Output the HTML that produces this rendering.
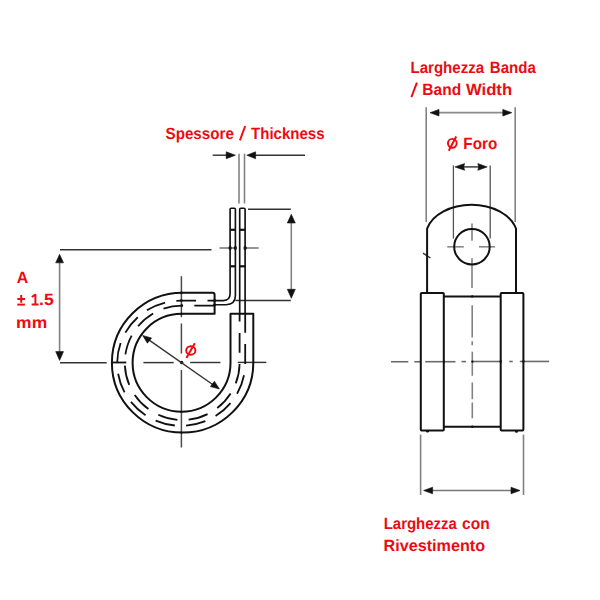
<!DOCTYPE html>
<html><head><meta charset="utf-8">
<style>
html,body{margin:0;padding:0;background:#fff;}
body{width:600px;height:600px;overflow:hidden;}
svg{display:block;}
text{font-family:"Liberation Sans",sans-serif;font-weight:bold;fill:#ee0a10;text-rendering:geometricPrecision;}
.h{fill:none;stroke:#333;stroke-width:1.45;}
.v{fill:none;stroke:#828282;stroke-width:1.6;}
.o{fill:none;stroke:#111;stroke-width:2;}
.b{fill:none;stroke:#111;stroke-width:1.8;}
.a{fill:#111;stroke:#111;stroke-width:0.6;stroke-linejoin:round;}
</style></head><body>
<svg width="600" height="600" viewBox="0 0 600 600">
<defs><filter id="sb" x="0" y="0" width="600" height="600" filterUnits="userSpaceOnUse" color-interpolation-filters="sRGB"><feGaussianBlur stdDeviation="0.35"/></filter></defs>
<rect width="600" height="600" fill="#fff"/>
<g filter="url(#sb)">

<!-- ================= LEFT DRAWING ================= -->
<!-- dimension A -->
<line class="h" x1="60" y1="249.7" x2="211.5" y2="249.7"/>
<line class="h" x1="60" y1="362.8" x2="106.7" y2="362.8"/>
<line class="v" x1="59.6" y1="258" x2="59.6" y2="356"/>
<path class="a" d="M59.6,254.3 L63.5,262.8 L55.7,262.8 Z"/>
<path class="a" d="M59.6,360.4 L63.5,351.6 L55.7,351.6 Z"/>
<!-- centre lines of ring -->
<line class="h" x1="143.4" y1="362.6" x2="173.7" y2="362.6"/>
<line class="h" x1="190.2" y1="362.5" x2="220.4" y2="362.5"/>
<line class="h" x1="237.8" y1="362.4" x2="266.3" y2="362.4"/>
<line class="v" style="stroke:#4a4a4a;stroke-width:1.5" x1="181.4" y1="276.2" x2="181.4" y2="317.2"/>
<line class="v" style="stroke:#4a4a4a;stroke-width:1.5" x1="181.4" y1="323.5" x2="181.4" y2="353.5"/>
<line class="v" style="stroke:#4a4a4a;stroke-width:1.5" x1="181.4" y1="370" x2="181.4" y2="447.5"/>
<circle cx="181.6" cy="362.5" r="1.8" fill="#111"/>
<!-- centre line through strips -->
<line class="h" style="stroke:#8a8a8a;stroke-width:1.8" x1="219.5" y1="248" x2="235.2" y2="248"/>
<line class="h" style="stroke:#8a8a8a;stroke-width:1.8" x1="245" y1="248" x2="258.7" y2="248"/>
<ellipse cx="230.1" cy="248" rx="1.6" ry="1.9" fill="#111"/>
<ellipse cx="235.3" cy="248" rx="1.6" ry="1.9" fill="#111"/>
<ellipse cx="245.1" cy="248" rx="1.6" ry="1.9" fill="#111"/>
<!-- strip length dimension -->
<line class="h" x1="248" y1="209.3" x2="290.8" y2="209.3"/>
<line class="h" x1="235.5" y1="300.5" x2="290.8" y2="300.5"/>
<line class="v" x1="291.3" y1="220" x2="291.3" y2="292"/>
<path class="a" d="M291.3,214.3 L295.3,223 L287.3,223 Z"/>
<path class="a" d="M291.3,298.2 L295.3,289.3 L287.3,289.3 Z"/>
<!-- thickness -->
<line class="v" x1="239" y1="153.7" x2="239" y2="203.4"/>
<line class="v" x1="244.5" y1="153.7" x2="244.5" y2="203.4"/>
<line class="h" x1="212.7" y1="155.2" x2="228" y2="155.2"/>
<path class="a" d="M235.4,155.2 L226.2,151.8 L226.2,158.7 Z"/>
<line class="h" x1="253" y1="155.2" x2="305" y2="155.2"/>
<path class="a" d="M246.8,155.2 L255.6,151.8 L255.6,158.7 Z"/>
<!-- diameter -->
<line class="h" x1="146" y1="337.8" x2="215.5" y2="386.5"/>
<path class="a" d="M142.6,335.4 L151.6,338 L147.4,343.2 Z"/>
<path class="a" d="M219.4,389 L214.4,381.2 L210.4,386.6 Z"/>

<!-- rubber outline -->
<path class="o" stroke-linejoin="round" d="M212.8,292.8 L182.6,292.8 A70.7,69.9 0 1 0 253.3,362.7 L253.3,313.8 L230.5,313.8 L230.5,362.8 A48.95,48.95 0 1 1 181.55,313.85 L214.6,313.8 L214.6,295 Q214.6,292.8 212.8,292.8 Z"/>
<!-- band hidden lines -->
<path class="b" d="M214.6,300.6 L180.8,300.6 A64,62.6 0 1 0 245.2,363.2 L245.2,313.8" stroke-dasharray="19.8 11.4" stroke-dashoffset="12.7"/>
<path class="b" d="M214.6,305.6 L181.7,305.6 A57.4,57.2 0 1 0 239.6,362.8 L239.6,313.8" stroke-dasharray="19.8 11.36" stroke-dashoffset="30.66"/>
<line class="b" x1="112" y1="362.5" x2="126.3" y2="362.5"/>
<!-- strips (solid band) -->
<path class="b" style="stroke-width:1.65" d="M239.7,313.8 L239.7,209.3 Q239.7,208.2 240.8,208.2 L244,208.2 Q245.1,208.2 245.1,209.3 L245.1,313.8"/>
<path class="b" style="stroke-width:1.65" d="M214.6,300.6 L223.3,300.6 Q230.1,300.6 230.1,293.6 L230.1,209.3 Q230.1,208.2 231.2,208.2 L234.3,208.2 Q235.4,208.2 235.4,209.3 L235.4,295.3 Q235.4,304.7 226,304.7 L214.6,304.7"/>
<g class="b" style="stroke-width:2.2">
  <line x1="230" y1="229.8" x2="235.5" y2="229.8"/>
  <line x1="239.6" y1="229.8" x2="245.2" y2="229.8"/>
  <line x1="230" y1="266.3" x2="235.5" y2="266.3"/>
  <line x1="239.6" y1="266.3" x2="245.2" y2="266.3"/>
</g>

<g fill="#111">
<circle cx="181.4" cy="292.9" r="1.3"/>
<circle cx="181.4" cy="300.6" r="1.4"/>
<circle cx="181.8" cy="305.6" r="1.3"/>
<circle cx="181.4" cy="313.9" r="1.2"/>
<circle cx="214.6" cy="300.6" r="1.5"/>
<circle cx="214.6" cy="304.7" r="1.5"/>
<circle cx="181.4" cy="411.8" r="1.1"/>
<circle cx="181.4" cy="432.6" r="1.1"/>
</g>

<!-- ================= RIGHT DRAWING ================= -->
<!-- band width -->
<line class="v" x1="426.2" y1="107.2" x2="426.2" y2="222"/>
<line class="v" x1="515.2" y1="107.3" x2="515.2" y2="222"/>
<line class="h" style="stroke:#8a8a8a;stroke-width:1.7" x1="436" y1="112.7" x2="505" y2="112.7"/>
<path class="a" d="M430,112.7 L439,109.4 L439,116 Z"/>
<path class="a" d="M511.8,112.7 L502.8,109.4 L502.8,116 Z"/>
<!-- hole diameter -->
<line class="v" style="stroke:#555;stroke-width:1.3" x1="453.4" y1="165.4" x2="453.4" y2="238.5"/>
<line class="v" style="stroke:#555;stroke-width:1.3" x1="490.2" y1="165.4" x2="490.2" y2="238.5"/>
<line class="h" x1="462" y1="166.9" x2="480" y2="166.9"/>
<path class="a" d="M454.9,166.9 L464.6,163.6 Q462.8,166.9 464.6,170.3 Z"/>
<path class="a" d="M487.2,166.9 L477.8,163.6 Q479.6,166.9 477.8,170.3 Z"/>
<!-- hole cross -->
<line class="v" style="stroke:#888" x1="447.3" y1="246.8" x2="463.8" y2="246.8"/>
<line class="v" style="stroke:#888" x1="479" y1="246.8" x2="495" y2="246.8"/>
<line class="v" x1="472" y1="223.4" x2="472" y2="240.8"/>
<line class="v" x1="472" y1="258.2" x2="472" y2="288"/>
<!-- vertical centre line -->
<line class="v" x1="472.2" y1="305.2" x2="472.2" y2="337.5"/>
<line class="v" x1="472.2" y1="341.3" x2="472.2" y2="345.3"/>
<line class="v" x1="472.3" y1="351.7" x2="472.3" y2="375.8"/>
<line class="v" x1="472.3" y1="382.5" x2="472.3" y2="399.2"/>
<line class="v" x1="472.3" y1="402.5" x2="472.3" y2="418.3"/>
<circle cx="472.2" cy="296.4" r="1.2" fill="#111"/>
<circle cx="472.3" cy="426.7" r="1.2" fill="#111"/>
<!-- horizontal centre line -->
<g class="h" style="stroke:#6a6a6a;stroke-width:1.6">
<line x1="391" y1="361.75" x2="408.3" y2="361.75"/>
<line x1="414.3" y1="361.75" x2="420" y2="361.75"/>
<line x1="425.2" y1="361.7" x2="455.5" y2="361.7"/>
<line x1="461.5" y1="361.6" x2="466" y2="361.6"/>
<line x1="472" y1="361.5" x2="501" y2="361.5"/>
<line x1="509.3" y1="361.5" x2="512.7" y2="361.5"/>
<line x1="519.8" y1="361.45" x2="549" y2="361.45"/>
</g>
<circle cx="444" cy="361.7" r="1.1" fill="#111"/>
<circle cx="472.4" cy="361.6" r="1.2" fill="#111"/>
<circle cx="500.8" cy="361.5" r="1.2" fill="#111"/>
<circle cx="523.4" cy="361.45" r="1.2" fill="#111"/>
<!-- bottom dimension -->
<line class="v" x1="420.6" y1="434.6" x2="420.6" y2="495"/>
<line class="v" x1="523.5" y1="434.6" x2="523.5" y2="495"/>
<line class="h" style="stroke:#777;stroke-width:1.6" x1="430" y1="490.5" x2="514" y2="490.5"/>
<path class="a" d="M423.6,490.5 L432.6,487.2 L432.6,493.8 Z"/>
<path class="a" d="M520,490.5 L511,487.2 L511,493.8 Z"/>
<ellipse cx="427.5" cy="431.6" rx="1.6" ry="1" fill="#111"/>
<ellipse cx="516.5" cy="431.8" rx="1.6" ry="1" fill="#111"/>
<!-- small tick -->
<line class="h" x1="423" y1="253.2" x2="430.4" y2="258"/>
<!-- outlines -->
<path class="o" d="M427.1,292.9 L427.1,228.6 A46,32 0 0 1 516,228.6 L516,292.9"/>
<circle class="o" cx="471.95" cy="246.65" r="17.75"/>
<rect class="o" x="420.8" y="292.9" width="23" height="137.6" rx="0.8"/>
<rect class="o" x="500.7" y="292.9" width="22.7" height="137.6" rx="0.8"/>
<line class="o" x1="443.8" y1="296.6" x2="500.7" y2="296.6"/>
<line class="o" x1="443.8" y1="426.8" x2="500.7" y2="426.8"/>

</g>
<!-- ================= TEXT ================= -->
<text x="165.53" y="138.6" font-size="16.3" textLength="68.39" lengthAdjust="spacingAndGlyphs">Spessore</text>
<text x="251.07" y="138.6" font-size="16.3" textLength="73.42" lengthAdjust="spacingAndGlyphs">Thickness</text>
<text x="410.48" y="72.7" font-size="16.3" textLength="73.61" lengthAdjust="spacingAndGlyphs">Larghezza</text>
<text x="489.87" y="72.7" font-size="16.3" textLength="46.04" lengthAdjust="spacingAndGlyphs">Banda</text>
<text x="422.35" y="94.6" font-size="16.3" textLength="38.8" lengthAdjust="spacingAndGlyphs">Band</text>
<text x="466.0" y="94.6" font-size="16.3" textLength="46.09" lengthAdjust="spacingAndGlyphs">Width</text>
<text x="463.36" y="148.7" font-size="16.3" textLength="33.87" lengthAdjust="spacingAndGlyphs">Foro</text>
<text x="16.71" y="283.0" font-size="16.3" textLength="11.49" lengthAdjust="spacingAndGlyphs">A</text>
<text x="16.13" y="328.0" font-size="16.3" textLength="31.11" lengthAdjust="spacingAndGlyphs">mm</text>
<text x="383.68" y="528.9" font-size="16.3" textLength="73.2" lengthAdjust="spacingAndGlyphs">Larghezza</text>
<text x="462.08" y="528.9" font-size="16.3" textLength="27.62" lengthAdjust="spacingAndGlyphs">con</text>
<text x="383.61" y="551.3" font-size="16.3" textLength="101.44" lengthAdjust="spacingAndGlyphs">Rivestimento</text>
<text x="39.02" y="305.3" font-size="16.3" textLength="14.61" lengthAdjust="spacingAndGlyphs">.5</text>
<g stroke="#ee0a10" stroke-width="1.95" fill="none">
<line x1="17.3" y1="299" x2="25" y2="299"/>
<line x1="21.2" y1="295" x2="21.2" y2="302.8"/>
<line x1="17.3" y1="304.6" x2="24.9" y2="304.6"/>
<path d="M31.6,304.4 L38.6,304.4 M35.4,304.4 L35.4,294.6 L31.8,297" stroke-linejoin="round"/>
<line x1="239.9" y1="140.4" x2="245.2" y2="126"/>
<line x1="411.4" y1="97.1" x2="416.9" y2="82.6"/>
<ellipse cx="452.3" cy="143.3" rx="4.35" ry="4.45"/>
<line x1="448.8" y1="150.7" x2="456.2" y2="136.5"/>
<ellipse cx="190.8" cy="350.4" rx="4.6" ry="4.25"/>
<line x1="186.4" y1="358" x2="194.8" y2="343.2"/>
</g>
</svg>
</body></html>
